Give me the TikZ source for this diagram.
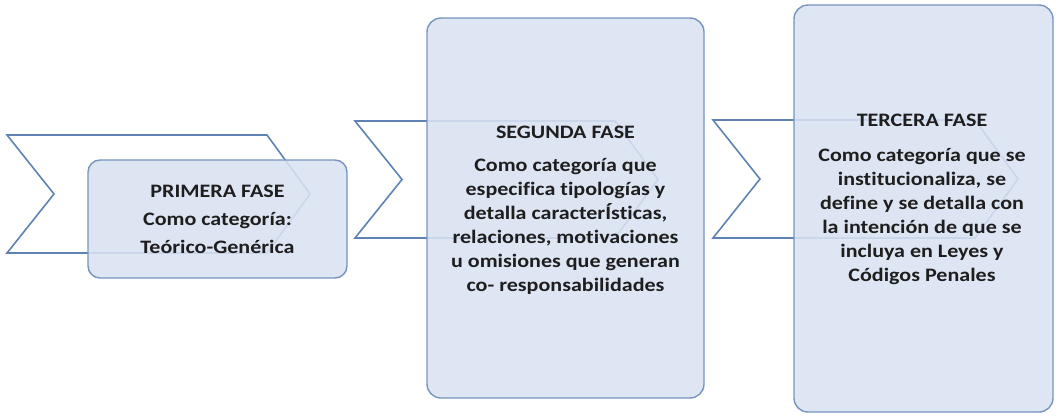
\documentclass[tikz,border=0pt]{standalone}
\usepackage{fontspec}
\setmainfont{Carlito}[Ligatures=NoCommon]
\usepackage{tikz}
\usetikzlibrary{positioning,calc}
\definecolor{arrowclr}{RGB}{95,130,180}
\definecolor{boxline}{RGB}{118,148,190}
\definecolor{boxfill}{RGB}{217,226,241}
\definecolor{txtclr}{RGB}{30,30,30}
\tikzset{
    chev/.style={draw=arrowclr,line width=1.6pt,fill=white,line join=miter},
    fase/.style={rectangle,draw=boxline,line width=1.4pt,fill=boxfill,fill opacity=0.88,
        text opacity=1,rounded corners=14pt,inner sep=0pt},
    fasetxt/.style={align=center,text=txtclr,font=\fontsize{19}{24}\selectfont\bfseries,
        xscale=1.16,transform shape},
}
\newcommand{\chevron}[4]{% x, top, width, height
  \draw[chev] (#1,#2) -- ++(#3-43,0) -- ++(43,#4/2) -- ++(-43,#4/2) -- ++(-#3+43,0)
    -- ++(47,-#4/2) -- cycle;}
\begin{document}
\begin{tikzpicture}[x=1pt,y=-1pt]
\useasboundingbox (0,0) rectangle (1058,418);
% chevrons behind
\chevron{7}{135}{303}{118}
\chevron{355}{121}{303}{117}
\chevron{713}{120}{305}{118}
% phase boxes
\node[fase,rounded corners=12pt,minimum width=259pt,minimum height=118pt] (f1) at (217.5,219) {};
\node[fase,minimum width=277pt,minimum height=380pt] (f2) at (565.5,208) {};
\node[fase,minimum width=259pt,minimum height=407pt] (f3) at (923.5,208.5) {};
% texts
\node[fasetxt,font=\fontsize{19}{28}\selectfont\bfseries] (t1) at (217.5,219)
  {PRIMERA FASE\\Como categoría:\\Teórico-Genérica};
\node[fasetxt] (t2) at (565.5,210)
  {SEGUNDA FASE\\[9pt]Como categoría que\\especifica tipologías y\\detalla caracterÍsticas,\\relaciones, motivaciones\\u omisiones que generan\\co- responsabilidades};
\node[fasetxt] (t3) at (922,199)
  {TERCERA FASE\\[11pt]Como categoría que se\\institucionaliza, se\\define y se detalla con\\la intención de que se\\incluya en Leyes y\\Códigos Penales};
\end{tikzpicture}
\end{document}
